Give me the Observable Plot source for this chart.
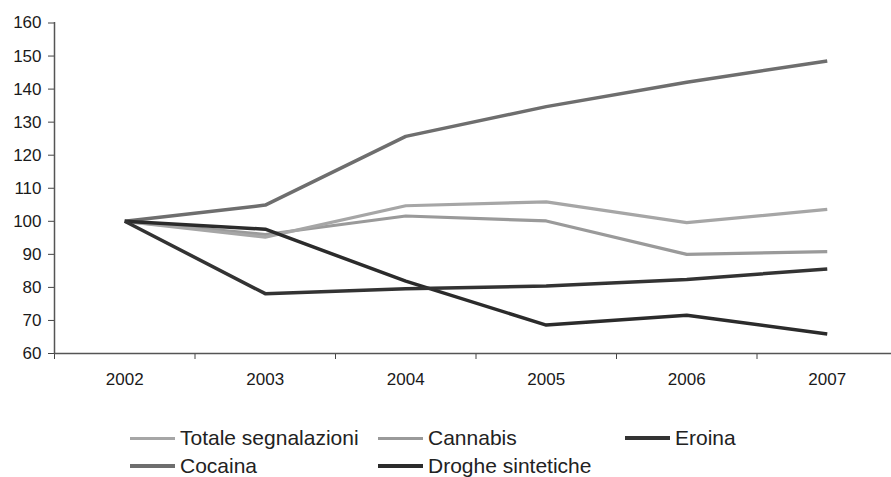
<!DOCTYPE html>
<html>
<head>
<meta charset="utf-8">
<script src="https://cdn.jsdelivr.net/npm/d3@7"></script>
<script src="https://cdn.jsdelivr.net/npm/@observablehq/plot@0.6"></script>
<style>
  body { margin: 0; background: #fff; font-family: "Liberation Sans", Arial, sans-serif; }
  #wrap { position: relative; width: 891px; height: 477px; overflow: hidden; }
  #legend { position: absolute; left: 0; top: 0; width: 891px; height: 477px; pointer-events: none; }
  .item { position: absolute; display: flex; align-items: center; font-size: 21px; color: #222; white-space: nowrap; transform: translateY(-50%); }
  .swatch { width: 45px; height: 0; border-top-style: solid; margin-right: 5px; }
</style>
</head>
<body>
<div id="wrap"><div id="chart"></div><div id="legend"></div></div>
<script>
const years = [2002, 2003, 2004, 2005, 2006, 2007];
const yTicks = [60, 70, 80, 90, 100, 110, 120, 130, 140, 150, 160];
const seriesNames = ["Totale segnalazioni", "Cannabis", "Eroina", "Cocaina", "Droghe sintetiche"];
const totale = [100, 95.2, 104.7, 105.9, 99.6, 103.6];
const cannabis = [100, 96.0, 101.6, 100.1, 90.0, 90.8];
const eroina = [100, 78.1, 79.6, 80.4, 82.4, 85.6];
const cocaina = [100, 104.9, 125.7, 134.7, 142.1, 148.5];
const droghe = [100, 97.6, 81.9, 68.6, 71.6, 65.9];
const seriesValues = [totale, cannabis, eroina, cocaina, droghe];
const colors = ["#a6a6a6", "#9a9a9a", "#333333", "#6e6e6e", "#2b2b2b"];
const widths = [3.2, 3.2, 3.5, 3.5, 3.5];

const data = [];
seriesNames.forEach((name, i) => {
  years.forEach((yr, j) => data.push({series: name, year: yr, value: seriesValues[i][j]}));
});
const boundaries = years.map(y => y - 0.5).concat([years[years.length - 1] + 0.5]);

const drawOrder = ["Cannabis", "Totale segnalazioni", "Cocaina", "Droghe sintetiche", "Eroina"];

const chart = Plot.plot({
  width: 891,
  height: 400,
  marginLeft: 54,
  marginRight: 0,
  marginTop: 22,
  marginBottom: 47,
  style: {fontFamily: "Liberation Sans, Arial, sans-serif", fontSize: "17px", color: "#1a1a1a", background: "#fff"},
  x: {type: "linear", domain: [2001.5, 2007.5], range: [54, 897]},
  y: {domain: [60, 160], range: [353, 22.5]},
  marks: [
    Plot.axisY({ticks: yTicks, tickSize: 6, tickPadding: 7, label: null, tickFormat: d => String(d), stroke: "#444", fontSize: 17}),
    Plot.axisX({ticks: boundaries, tickSize: 6, tickFormat: () => "", label: null, stroke: "#444"}),
    Plot.axisX({ticks: years, tickSize: 0, tickPadding: 19, label: null, tickFormat: d => String(d), fontSize: 17}),
    Plot.ruleX([2001.5], {stroke: "#555", strokeWidth: 1.5}),
    Plot.ruleY([60], {stroke: "#555", strokeWidth: 1.5}),
    ...drawOrder.map(name => {
      const i = seriesNames.indexOf(name);
      return Plot.line(data.filter(d => d.series === name), {
        x: "year", y: "value", stroke: colors[i], strokeWidth: widths[i], strokeLinejoin: "round", strokeLinecap: "butt"
      });
    })
  ]
});
document.getElementById("chart").appendChild(chart);

const legendPos = [[130, 438], [378, 438], [625, 438], [130, 466], [378, 466]];
const legend = document.getElementById("legend");
seriesNames.forEach((name, i) => {
  const el = document.createElement("div");
  el.className = "item";
  el.style.left = legendPos[i][0] + "px";
  el.style.top = legendPos[i][1] + "px";
  const sw = document.createElement("span");
  sw.className = "swatch";
  sw.style.borderTopColor = colors[i];
  sw.style.borderTopWidth = (widths[i] + 0.5) + "px";
  el.appendChild(sw);
  const t = document.createElement("span");
  t.textContent = name;
  el.appendChild(t);
  legend.appendChild(el);
});
</script>
</body>
</html>
